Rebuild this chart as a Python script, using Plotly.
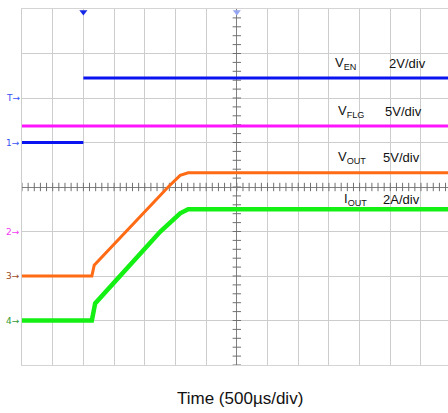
import numpy as np
import plotly.graph_objects as go

# Time base: µs relative to screen centre, 500 µs per division
T_START, T_END = -3500, 3440
TRIG_T = -2500

# Channel ground offsets (divisions) and vertical scales (units/div)
CH_OFFSET = {"EN": 1.0, "FLG": -1.0, "OUT": -2.0, "IOUT": -3.0}
CH_SCALE = {"EN": 2.0, "FLG": 5.0, "OUT": 5.0, "IOUT": 2.0}

# Waveforms (time in µs, value in V or A); None splits the EN edge,
# which is too fast to leave a visible trace
ven_t = [T_START, -2500, None, -2500, T_END]
ven_v = [0.0, 0.0, None, 2.9, 2.9]

vflg_t = [T_START, T_END]
vflg_v = [11.85, 11.85]

vout_t = [T_START, -2362, -2324, -1119, -923, -793, T_END]
vout_v = [0.0, 0.0, 1.2, 10.0, 11.3, 11.6, 11.6]

iout_t = [T_START, -2362, -2308, -1246, -923, -793, T_END]
iout_v = [0.0, 0.0, 0.77, 4.0, 4.82, 5.0, 5.0]

labels = [
    ("V<sub>EN</sub>", "2V/div", 1570, 2440, 2.78),
    ("V<sub>FLG</sub>", "5V/div", 1620, 2380, 1.69),
    ("V<sub>OUT</sub>", "5V/div", 1620, 2350, 0.67),
    ("I<sub>OUT</sub>", "2A/div", 1710, 2350, -0.28),
]

markers = [("T→", 2.0, "#3a52f5"), ("1→", 1.0, "#3a52f5"), ("2→", -1.0, "#f23af2"),
           ("3→", -2.0, "#9b4a22"), ("4→", -3.0, "#2f9a2f")]


def to_div(values, ch):
    return [None if v is None else CH_OFFSET[ch] + v / CH_SCALE[ch] for v in values]


fig = go.Figure()

# Centre graticule minor ticks
tick_col = "#707070"
hx = np.arange(T_START, T_END + 1, 100)
fig.add_trace(go.Scatter(x=hx, y=np.zeros_like(hx), mode="markers",
                         marker=dict(symbol="line-ns-open", size=6, color=tick_col,
                                     line=dict(color=tick_col, width=1)),
                         hoverinfo="skip"))
vy = np.arange(-4, 4.01, 0.2)
fig.add_trace(go.Scatter(x=np.zeros_like(vy), y=vy, mode="markers",
                         marker=dict(symbol="line-ew-open", size=6, color=tick_col,
                                     line=dict(color=tick_col, width=1)),
                         hoverinfo="skip"))

fig.add_trace(go.Scatter(x=ven_t, y=to_div(ven_v, "EN"), mode="lines", connectgaps=False,
                         line=dict(color="#0a14f0", width=3)))
fig.add_trace(go.Scatter(x=vflg_t, y=to_div(vflg_v, "FLG"), mode="lines",
                         line=dict(color="#ff14ff", width=3)))
fig.add_trace(go.Scatter(x=vout_t, y=to_div(vout_v, "OUT"), mode="lines",
                         line=dict(color="#ff6a14", width=3)))
fig.add_trace(go.Scatter(x=iout_t, y=to_div(iout_v, "IOUT"), mode="lines",
                         line=dict(color="#14f014", width=4.5)))

# Trigger position and centre markers on the top edge
fig.add_trace(go.Scatter(x=[TRIG_T], y=[3.93], mode="markers", cliponaxis=False,
                         marker=dict(symbol="triangle-down", size=7, color="#1428e6")))
fig.add_trace(go.Scatter(x=[0], y=[3.93], mode="markers", cliponaxis=False,
                         marker=dict(symbol="triangle-down", size=7, color="#97a6f2")))

font = "Liberation Sans, Arial, sans-serif"
ann = []
for name, scale, xn, xs, y in labels:
    ann.append(dict(x=xn, y=y, xref="x", yref="y", text=name, showarrow=False,
                    xanchor="left", yanchor="middle", font=dict(family=font, size=13, color="#111")))
    ann.append(dict(x=xs, y=y, xref="x", yref="y", text=scale, showarrow=False,
                    xanchor="left", yanchor="middle", font=dict(family=font, size=13, color="#111")))
for txt, y, col in markers:
    ann.append(dict(x=0, y=y, xref="paper", yref="y", text=txt, showarrow=False,
                    xanchor="right", yanchor="middle", xshift=0,
                    font=dict(family="DejaVu Sans, sans-serif", size=9, color=col)))
ann.append(dict(x=0.512, y=-0.095, xref="paper", yref="paper", text="Time (500µs/div)",
                showarrow=False, xanchor="center", yanchor="middle",
                font=dict(family=font, size=17, color="#111")))

fig.update_layout(
    width=448, height=413, autosize=False,
    margin=dict(l=22, r=0, t=9, b=48),
    paper_bgcolor="white", plot_bgcolor="white",
    showlegend=False, hovermode=False,
    annotations=ann,
    xaxis=dict(range=[T_START, T_END], tick0=0, dtick=500, showticklabels=False, ticks="",
               showgrid=True, gridcolor="#cdcdcd", gridwidth=1,
               zeroline=True, zerolinecolor="#808080", zerolinewidth=1,
               showline=True, mirror=True, linecolor="#d4d4d4", linewidth=1, fixedrange=True),
    yaxis=dict(range=[-4, 4], tick0=0, dtick=1, showticklabels=False, ticks="",
               showgrid=True, gridcolor="#cdcdcd", gridwidth=1,
               zeroline=True, zerolinecolor="#808080", zerolinewidth=1,
               showline=True, linecolor="#cdcdcd", linewidth=1, fixedrange=True),
)

fig.write_html("out.html")
